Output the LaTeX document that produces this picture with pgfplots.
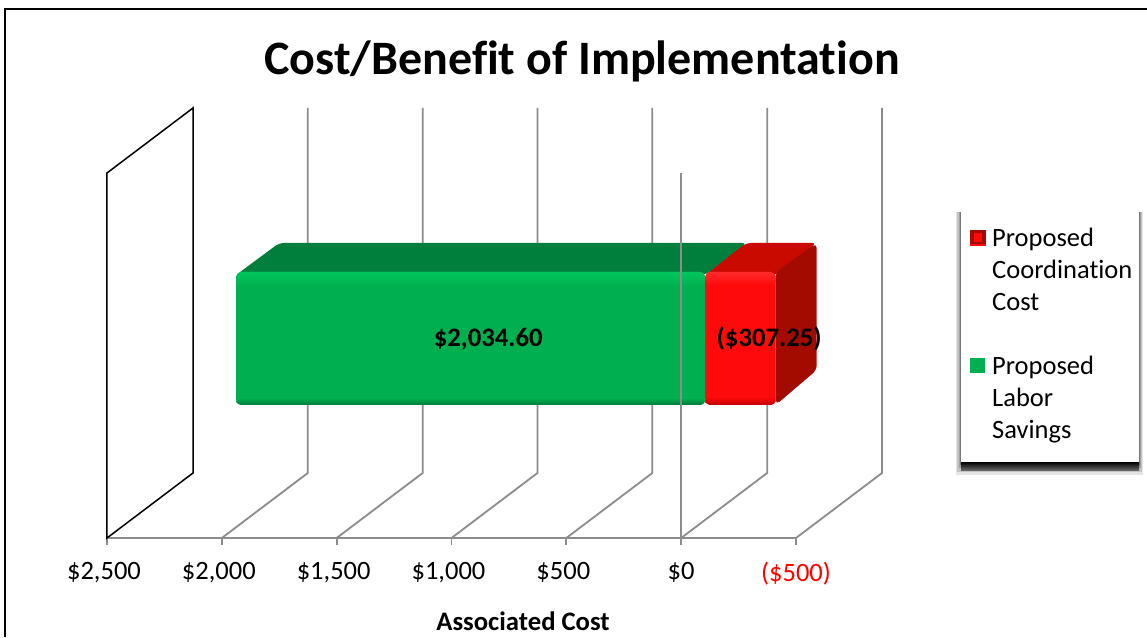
\documentclass[border=0pt]{standalone}
\usepackage{pgfplots}
\pgfplotsset{compat=1.18}
\usepackage{fontspec}
\setmainfont{Carlito}[Ligatures=NoCommon]
\definecolor{gridg}{HTML}{8C8C8C}
\definecolor{gfront}{HTML}{00B050}
\definecolor{gtop}{HTML}{007F3C}
\definecolor{glight}{HTML}{00C65C}
\definecolor{gdark}{HTML}{007A38}
\definecolor{rfront}{HTML}{FF0A0A}
\definecolor{rtop}{HTML}{C80A00}
\definecolor{rside}{HTML}{A30A00}
\definecolor{rlight}{HTML}{FF2A2A}
\definecolor{rdark}{HTML}{C00000}
\begin{document}
\begin{tikzpicture}[x=1pt,y=1pt]
\useasboundingbox (0,0) rectangle (1147,637);
\fill[white] (0,0) rectangle (1147,637);
% frame
\draw[black,line width=2pt] (5,0) -- (5,628) -- (1147,628);
% legend shadow
\foreach \d/\o in {8/0.10,6/0.14,4/0.18,2/0.25}{
  \fill[black,opacity=\o] (961-\d*0.6,175-\d*1.6) rectangle (1139+\d*0.5,425);
}
\fill[top color=black,bottom color=black!55] (961,166) rectangle (1139,175);
\fill[white] (961,175) rectangle (1139,425);
\begin{axis}[
  at={(107pt,99pt)},anchor=south west,
  scale only axis,width=689pt,height=430pt,
  xmin=-500,xmax=2500,ymin=99,ymax=529,
  x dir=reverse,clip=false,
  axis x line=bottom,hide y axis,
  axis line style={gridg,line width=1.8pt,-},
  xtick={-500,0,500,1000,1500,2000,2500},
  xticklabels={\hspace*{6pt}\textcolor{red}{(\$500)},\hspace*{6pt}\$0,\$500,\$1{,}000,\$1{,}500,\$2{,}000,\$2{,}500},
  tick style={gridg,line width=1.8pt},
  tick align=outside,major tick length=7pt,
  xticklabel style={font=\fontsize{26.5}{30}\selectfont,text=black,yshift=-14pt,xshift=-3pt},
  title={Cost/Benefit of Implementation},
  title style={at={(axis description cs:0.6894,1.094)},anchor=center,font=\fontsize{48}{54}\selectfont\bfseries,inner sep=0pt},
  xlabel={Associated Cost},
  xlabel style={at={(axis description cs:0.6038,-0.193)},anchor=center,font=\fontsize{26.7}{30}\selectfont\bfseries,inner sep=0pt},
]
% side floor and back grid lines
\addplot[gridg,line width=1.8pt,forget plot] coordinates {(2000,99)(1625.5,164)(1625.5,529)};
\addplot[gridg,line width=1.8pt,forget plot] coordinates {(1500,99)(1125.5,164)(1125.5,529)};
\addplot[gridg,line width=1.8pt,forget plot] coordinates {(1000,99)(625.5,164)(625.5,529)};
\addplot[gridg,line width=1.8pt,forget plot] coordinates {(500,99)(125.5,164)(125.5,529)};
\addplot[gridg,line width=1.8pt,forget plot] coordinates {(0,99)(-374.5,164)(-374.5,529)};
\addplot[gridg,line width=1.8pt,forget plot] coordinates {(-500,99)(-874.5,164)(-874.5,529)};
% left wall
\addplot[black,line width=1.5pt,fill=white,forget plot] coordinates {(2500,99)(2125.5,164)(2125.5,529)(2500,464)} -- cycle;
% green bar, $2,034.60, shifted along depth
\addplot[fill=gtop,draw=none,rounded corners=5pt,forget plot] coordinates {(1938,362)(1750,394)(-287,394)(-104.5,362)} -- cycle;
\addplot[fill=gfront,draw=none,rounded corners=6pt,forget plot]
  coordinates {(1938,232)(1938,365)(-104.5,365)(-104.5,232)} -- cycle;
\addplot[draw=none,rounded corners=5pt,top color=glight,bottom color=gfront,forget plot] coordinates {(1938,350)(1938,365)(-104.5,365)(-104.5,350)} -- cycle;
\addplot[draw=none,rounded corners=5pt,bottom color=gdark,top color=gfront,forget plot] coordinates {(1938,232)(1938,239)(-104.5,239)(-104.5,232)} -- cycle;
% red bar, -$307.25
\addplot[fill=rtop,draw=none,rounded corners=5pt,forget plot] coordinates {(-104.5,362)(-283,394)(-590.25,394)(-411.75,362)} -- cycle;
\addplot[fill=rside,draw=none,rounded corners=5pt,forget plot] coordinates {(-411.75,365)(-590.25,394)(-590.25,267)(-411.75,232)} -- cycle;
\addplot[fill=rfront,draw=none,rounded corners=6pt,forget plot]
  coordinates {(-104.5,232)(-104.5,365)(-411.75,365)(-411.75,232)} -- cycle;
\addplot[draw=none,rounded corners=5pt,top color=rlight,bottom color=rfront,forget plot] coordinates {(-104.5,352)(-104.5,365)(-411.75,365)(-411.75,352)} -- cycle;
\addplot[draw=none,rounded corners=5pt,bottom color=rdark,top color=rfront,forget plot] coordinates {(-104.5,232)(-104.5,240)(-411.75,240)(-411.75,232)} -- cycle;
% front line at zero
\addplot[gridg,line width=1.8pt,forget plot] coordinates {(0,99)(0,464)};
\node[font=\fontsize{26.7}{30}\selectfont\bfseries] at (axis cs:840,298) {\$2,034.60};
\node[font=\fontsize{26.7}{30}\selectfont\bfseries] at (axis cs:-383,298) {(\$307.25)};
\end{axis}
% legend
\fill[rside] (970,391) rectangle (986,407);
\fill[rfront] (974,395) rectangle (982,404);
\fill[rfront] (970,391) rectangle (986,393);
\fill[gfront] (970,264) rectangle (985,279);
\begin{scope}[every node/.style={anchor=base west,inner sep=0pt,font=\fontsize{26.5}{32}\selectfont}]
\node at (992,390) {Proposed};
\node at (992,358) {Coordination};
\node at (992,326) {Cost};
\node at (992,262) {Proposed};
\node at (992,230) {Labor};
\node at (992,198) {Savings};
\end{scope}
\end{tikzpicture}
\end{document}
